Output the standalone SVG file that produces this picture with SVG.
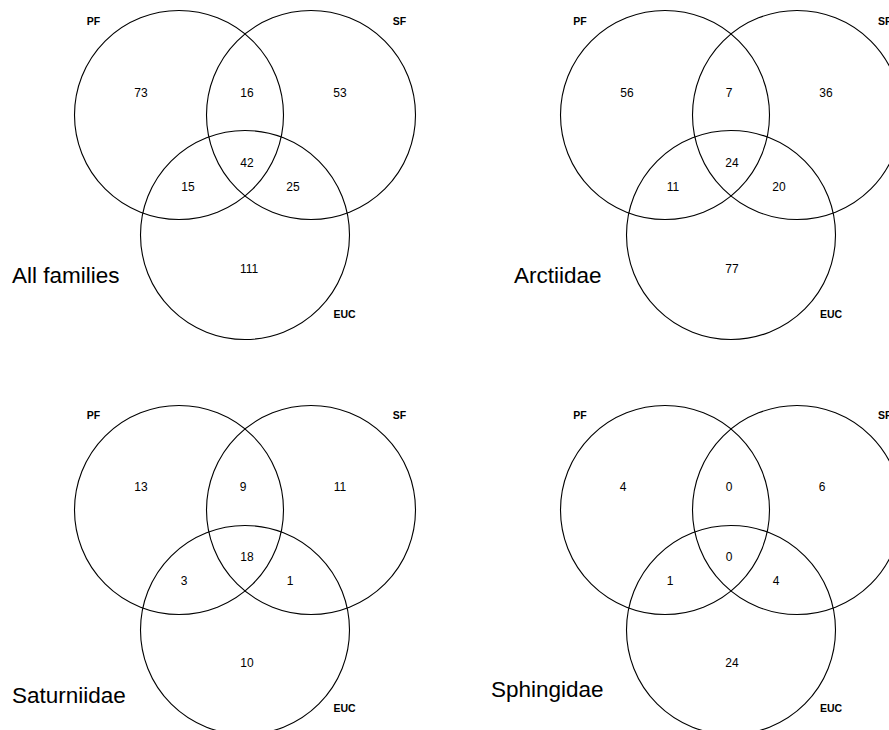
<svg xmlns="http://www.w3.org/2000/svg" width="889" height="730" viewBox="0 0 889 730">
<style>
.c{fill:none;stroke:#000;stroke-width:1.1}
.n{font-family:"Liberation Sans",Arial,sans-serif;font-size:12px;text-anchor:middle;fill:#000}
.l{font-family:"Liberation Sans",Arial,sans-serif;font-size:10.5px;font-weight:bold;text-anchor:middle;fill:#000}
.t{font-family:"Liberation Sans",Arial,sans-serif;font-size:22.5px;fill:#000}
</style>
<rect width="889" height="730" fill="#fff"/>
<g id="all-families">
<circle class="c" cx="179" cy="115" r="104.5"/>
<circle class="c" cx="311" cy="115" r="104.5"/>
<circle class="c" cx="245" cy="235" r="104.5"/>
<text class="l" x="93.5" y="25">PF</text>
<text class="l" x="399.5" y="25">SF</text>
<text class="l" x="344.5" y="318">EUC</text>
<text class="n" x="141" y="97">73</text>
<text class="n" x="247" y="97">16</text>
<text class="n" x="340" y="97">53</text>
<text class="n" x="247" y="167">42</text>
<text class="n" x="188" y="191">15</text>
<text class="n" x="293" y="191">25</text>
<text class="n" x="249" y="273">111</text>
<text class="t" x="12" y="283">All families</text>
</g>
<g id="arctiidae">
<circle class="c" cx="665" cy="115" r="104.5"/>
<circle class="c" cx="797" cy="115" r="104.5"/>
<circle class="c" cx="731" cy="235" r="104.5"/>
<text class="l" x="580" y="25">PF</text>
<text class="l" x="878" y="25" style="text-anchor:start">SF</text>
<text class="l" x="831" y="318">EUC</text>
<text class="n" x="627" y="97">56</text>
<text class="n" x="729" y="97">7</text>
<text class="n" x="826" y="97">36</text>
<text class="n" x="732" y="167">24</text>
<text class="n" x="673" y="191">11</text>
<text class="n" x="779" y="191">20</text>
<text class="n" x="732" y="273">77</text>
<text class="t" x="514" y="283">Arctiidae</text>
</g>
<g id="saturniidae">
<circle class="c" cx="179" cy="510" r="104.5"/>
<circle class="c" cx="311" cy="510" r="104.5"/>
<circle class="c" cx="245" cy="630" r="104.5"/>
<text class="l" x="93.5" y="419">PF</text>
<text class="l" x="399.5" y="419">SF</text>
<text class="l" x="344.5" y="712">EUC</text>
<text class="n" x="141" y="491">13</text>
<text class="n" x="243" y="491">9</text>
<text class="n" x="340" y="491">11</text>
<text class="n" x="247" y="561">18</text>
<text class="n" x="184" y="585">3</text>
<text class="n" x="290" y="585">1</text>
<text class="n" x="247" y="667">10</text>
<text class="t" x="12" y="703">Saturniidae</text>
</g>
<g id="sphingidae">
<circle class="c" cx="665" cy="510" r="104.5"/>
<circle class="c" cx="797" cy="510" r="104.5"/>
<circle class="c" cx="731" cy="630" r="104.5"/>
<text class="l" x="580" y="419">PF</text>
<text class="l" x="878" y="419" style="text-anchor:start">SF</text>
<text class="l" x="831" y="712">EUC</text>
<text class="n" x="623" y="491">4</text>
<text class="n" x="729" y="491">0</text>
<text class="n" x="822" y="491">6</text>
<text class="n" x="729" y="561">0</text>
<text class="n" x="670" y="585">1</text>
<text class="n" x="776" y="585">4</text>
<text class="n" x="732" y="667">24</text>
<text class="t" x="491" y="697">Sphingidae</text>
</g>
<g id="connectors"/>
</svg>
